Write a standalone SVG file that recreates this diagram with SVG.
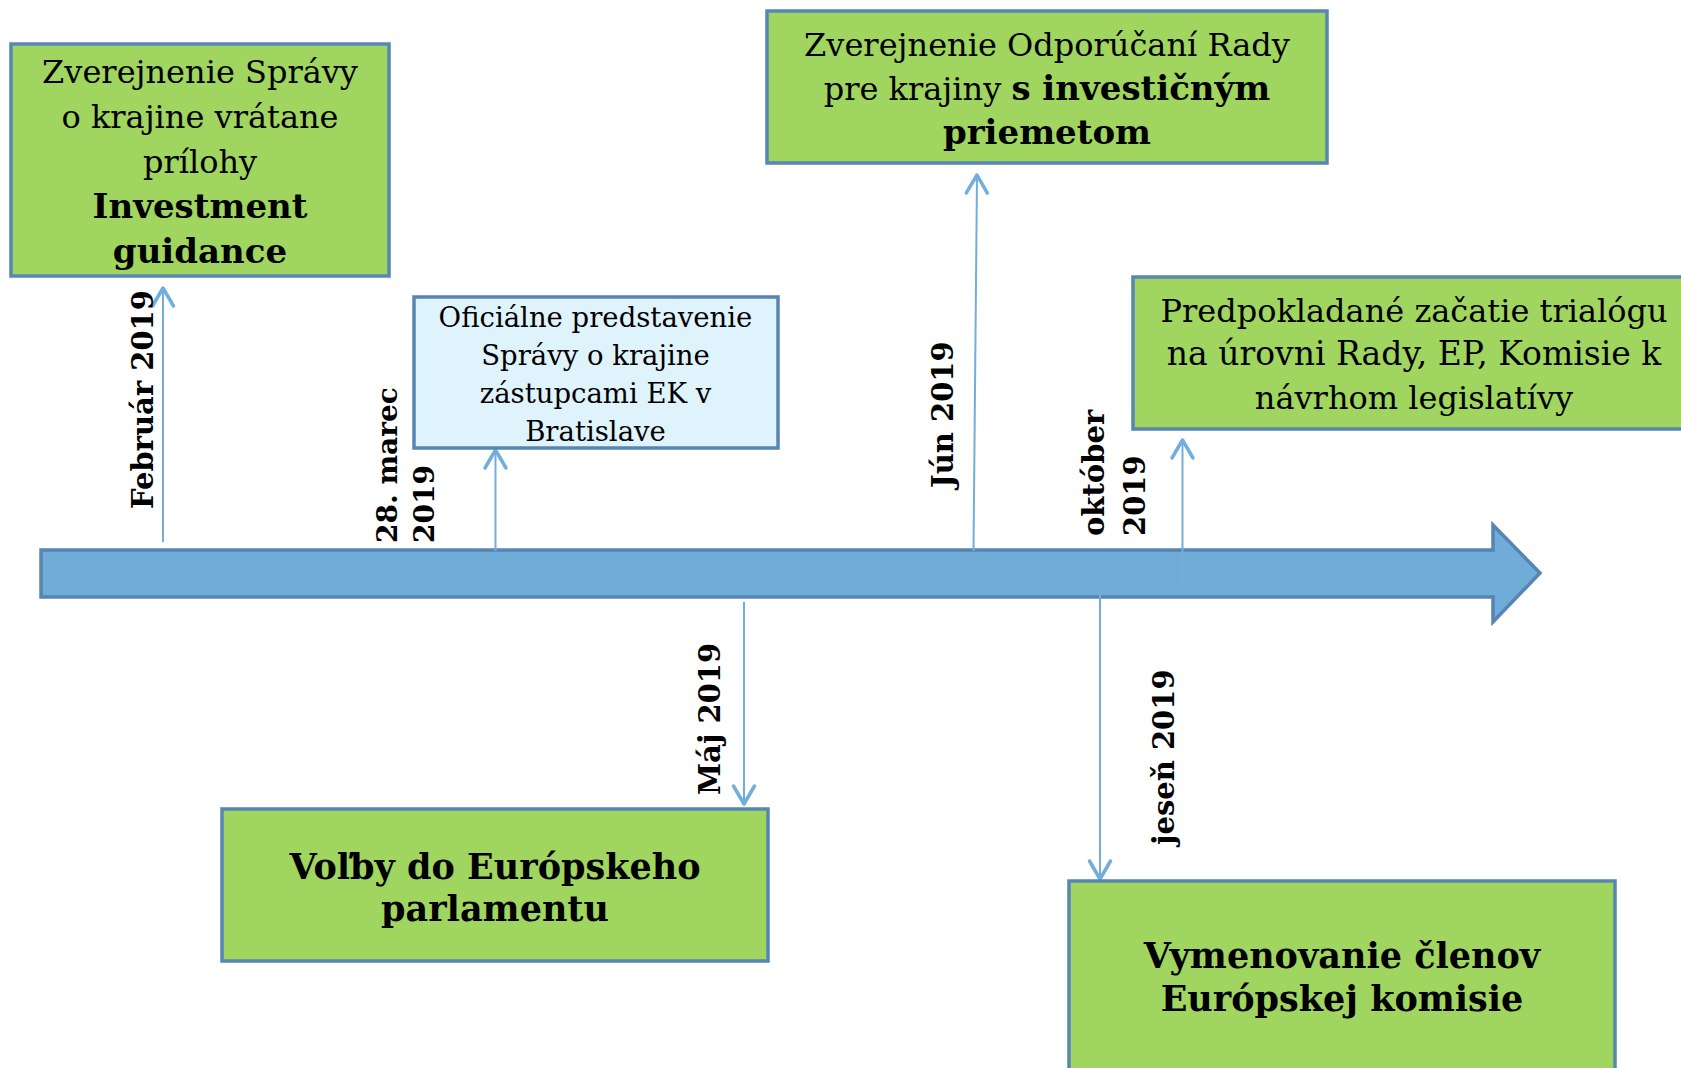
<svg xmlns="http://www.w3.org/2000/svg" width="1681" height="1068" viewBox="0 0 1681 1068">
<style>
.box{stroke:#5886B2;stroke-width:3.5}
.g{fill:#A0D55F}
.lb{fill:#DFF3FC}
.t{font-family:"DejaVu Serif","Liberation Serif",serif;font-size:32px;fill:#000;text-anchor:middle}
.s{font-size:27.5px}
.b{font-weight:bold;font-size:34px}
.bb{font-size:35px}
.lab{font-family:"DejaVu Serif","Liberation Serif",serif;font-weight:bold;font-size:29px;fill:#000}
.lab28{font-size:28px}
.con{stroke:#72AEDC;stroke-width:2;fill:none;marker-end:url(#ah)}
</style>
<defs>
<marker id="ah" markerUnits="userSpaceOnUse" viewBox="-22 -14 26 28" markerWidth="26" markerHeight="28" refX="0" refY="0" orient="auto" overflow="visible">
<path d="M-18,-10.5 L0,0 L-18,10.5" fill="none" stroke="#72AEDC" stroke-width="3.5" stroke-linecap="round" stroke-linejoin="round"/>
</marker>
</defs>
<rect width="1681" height="1068" fill="#fff"/>
<g id="timeline">
<polygon points="41,550 1493,550 1493,525 1540,573 1493,622 1493,597 41,597" fill="#6FACD8" stroke="#5585B0" stroke-width="3.5"/>
</g>
<g id="connectors">
<line class="con" x1="163" y1="542" x2="163" y2="288"/>
<line class="con" x1="495.5" y1="551" x2="495.5" y2="450"/>
<line class="con" x1="973.5" y1="551" x2="977" y2="175"/>
<line class="con" x1="1182.5" y1="588" x2="1182.5" y2="440"/>
<line class="con" x1="744" y1="602" x2="744" y2="804"/>
<line class="con" x1="1100" y1="593" x2="1100" y2="879"/>
</g>
<g id="labels">
<text class="lab" transform="translate(153,509) rotate(-90)">Február 2019</text>
<text class="lab lab28" transform="translate(397,543) rotate(-90)">28. marec</text>
<text class="lab lab28" transform="translate(434,543) rotate(-90)">2019</text>
<text class="lab" transform="translate(720,795) rotate(-90)">Máj 2019</text>
<text class="lab" transform="translate(953,488) rotate(-90)">Jún 2019</text>
<text class="lab" transform="translate(1104,536) rotate(-90)">október</text>
<text class="lab" transform="translate(1145,536) rotate(-90)">2019</text>
<text class="lab" transform="translate(1174,845) rotate(-90)">jeseň 2019</text>
</g>
<g id="node-sprava">
<rect class="box g" x="11" y="44" width="378" height="232"/>
<text class="t" x="200" y="83">Zverejnenie Správy</text>
<text class="t" x="200" y="128">o krajine vrátane</text>
<text class="t" x="200" y="173">prílohy</text>
<text class="t b" x="200" y="218">Investment</text>
<text class="t b" x="200" y="263">guidance</text>
</g>
<g id="node-oficialne">
<rect class="box lb" x="414" y="297" width="364" height="151"/>
<text class="t s" x="595.5" y="327">Oficiálne predstavenie</text>
<text class="t s" x="595.5" y="365">Správy o krajine</text>
<text class="t s" x="595.5" y="403">zástupcami EK v</text>
<text class="t s" x="595.5" y="441">Bratislave</text>
</g>
<g id="node-odporucania">
<rect class="box g" x="767" y="11" width="560" height="152"/>
<text class="t" x="1047" y="56">Zverejnenie Odporúčaní Rady</text>
<text class="t" x="1047" y="100">pre krajiny <tspan class="b">s investičným</tspan></text>
<text class="t b" x="1047" y="144">priemetom</text>
</g>
<g id="node-trialog">
<rect class="box g" x="1133" y="277" width="560" height="152"/>
<text class="t" x="1414" y="322">Predpokladané začatie trialógu</text>
<text class="t" x="1414" y="365" style="font-size:33px">na úrovni Rady, EP, Komisie k</text>
<text class="t" x="1414" y="409">návrhom legislatívy</text>
</g>
<g id="node-volby">
<rect class="box g" x="222" y="809" width="546" height="152"/>
<text class="t b bb" x="495" y="879">Voľby do Európskeho</text>
<text class="t b bb" x="495" y="921">parlamentu</text>
</g>
<g id="node-komisia">
<rect class="box g" x="1069" y="881" width="546" height="200"/>
<text class="t b bb" x="1342" y="968">Vymenovanie členov</text>
<text class="t b bb" x="1342" y="1011">Európskej komisie</text>
</g>
</svg>
